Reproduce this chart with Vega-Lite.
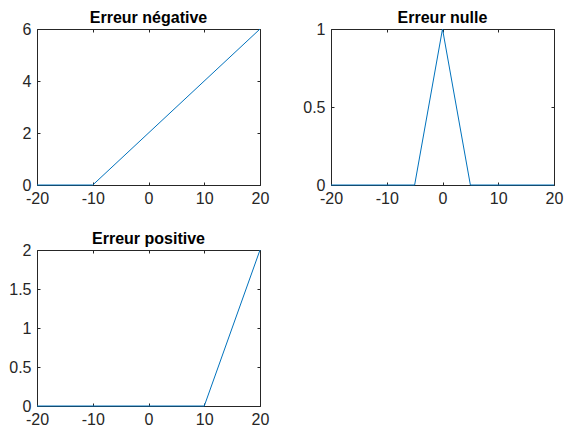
{
  "$schema": "https://vega.github.io/schema/vega-lite/v6.json",
  "padding": {"left": 8, "top": 10, "right": 5, "bottom": 5},
  "bounds": "flush",
  "columns": 2,
  "spacing": {"row": 65, "column": 71},
  "background": "white",
  "config": {
    "view": {"stroke": null},
    "font": "Liberation Sans",
    "title": {"font": "Liberation Sans", "fontSize": 16, "fontWeight": "bold", "color": "#000000", "baseline": "alphabetic", "offset": -5},
    "axis": {
      "labelFont": "Liberation Sans", "labelFontSize": 16, "labelColor": "#262626",
      "domainColor": "#262626", "tickColor": "#262626", "domainWidth": 1, "tickWidth": 1,
      "tickSize": -3, "grid": false, "title": null, "labelFlush": false, "labelOverlap": false
    },
    "axisX": {"labelPadding": 8},
    "axisY": {"labelPadding": 9}
  },
  "datasets": {
    "neg": [{"x": -20, "y": 0}, {"x": -10, "y": 0}, {"x": 20, "y": 6}],
    "nul": [{"x": -20, "y": 0}, {"x": -5, "y": 0}, {"x": 0, "y": 1}, {"x": 5, "y": 0}, {"x": 20, "y": 0}],
    "pos": [{"x": -20, "y": 0}, {"x": 10, "y": 0}, {"x": 20, "y": 2}]
  },
  "concat": [
    {
      "title": "Erreur négative",
      "width": 223, "height": 156,
      "data": {"name": "neg"},
      "layer": [
        {"mark": {"type": "line", "color": "#0072BD", "strokeWidth": 1},
         "encoding": {
           "x": {"field": "x", "type": "quantitative", "scale": {"domain": [-20, 20], "nice": false},
                 "axis": {"orient": "bottom", "values": [-20, -10, 0, 10, 20], "labelExpr": "'' + datum.value"}},
           "y": {"field": "y", "type": "quantitative", "scale": {"domain": [0, 6], "nice": false, "zero": false},
                 "axis": {"orient": "left", "values": [0, 2, 4, 6], "labelExpr": "'' + datum.value"}}
         }},
        {"mark": {"type": "line", "opacity": 0},
         "encoding": {
           "x": {"field": "x", "type": "quantitative", "axis": {"orient": "top", "labels": false, "values": [-20, -10, 0, 10, 20]}},
           "y": {"field": "y", "type": "quantitative", "axis": {"orient": "right", "labels": false, "values": [0, 2, 4, 6]}}
         }}
      ],
      "resolve": {"axis": {"x": "independent", "y": "independent"}}
    },
    {
      "title": "Erreur nulle",
      "width": 223, "height": 156,
      "data": {"name": "nul"},
      "layer": [
        {"mark": {"type": "line", "color": "#0072BD", "strokeWidth": 1},
         "encoding": {
           "x": {"field": "x", "type": "quantitative", "scale": {"domain": [-20, 20], "nice": false},
                 "axis": {"orient": "bottom", "values": [-20, -10, 0, 10, 20], "labelExpr": "'' + datum.value"}},
           "y": {"field": "y", "type": "quantitative", "scale": {"domain": [0, 1], "nice": false, "zero": false},
                 "axis": {"orient": "left", "values": [0, 0.5, 1], "labelExpr": "'' + datum.value"}}
         }},
        {"mark": {"type": "line", "opacity": 0},
         "encoding": {
           "x": {"field": "x", "type": "quantitative", "axis": {"orient": "top", "labels": false, "values": [-20, -10, 0, 10, 20]}},
           "y": {"field": "y", "type": "quantitative", "axis": {"orient": "right", "labels": false, "values": [0, 0.5, 1]}}
         }}
      ],
      "resolve": {"axis": {"x": "independent", "y": "independent"}}
    },
    {
      "title": "Erreur positive",
      "width": 223, "height": 156,
      "data": {"name": "pos"},
      "layer": [
        {"mark": {"type": "line", "color": "#0072BD", "strokeWidth": 1},
         "encoding": {
           "x": {"field": "x", "type": "quantitative", "scale": {"domain": [-20, 20], "nice": false},
                 "axis": {"orient": "bottom", "values": [-20, -10, 0, 10, 20], "labelExpr": "'' + datum.value"}},
           "y": {"field": "y", "type": "quantitative", "scale": {"domain": [0, 2], "nice": false, "zero": false},
                 "axis": {"orient": "left", "values": [0, 0.5, 1, 1.5, 2], "labelExpr": "'' + datum.value"}}
         }},
        {"mark": {"type": "line", "opacity": 0},
         "encoding": {
           "x": {"field": "x", "type": "quantitative", "axis": {"orient": "top", "labels": false, "values": [-20, -10, 0, 10, 20]}},
           "y": {"field": "y", "type": "quantitative", "axis": {"orient": "right", "labels": false, "values": [0, 0.5, 1, 1.5, 2]}}
         }}
      ],
      "resolve": {"axis": {"x": "independent", "y": "independent"}}
    }
  ]
}
